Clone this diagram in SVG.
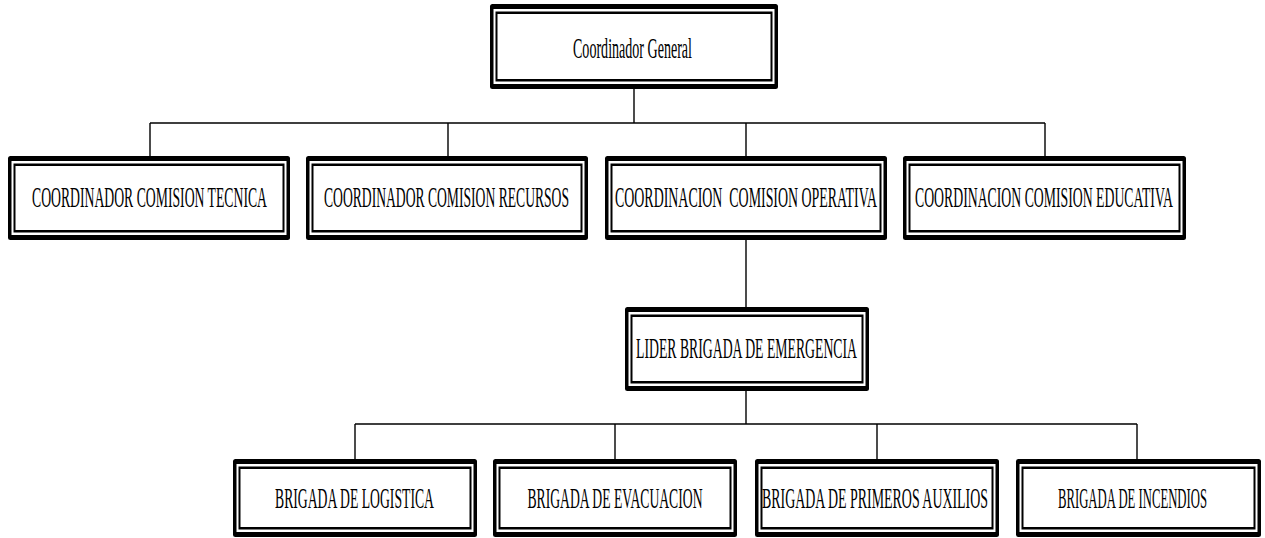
<svg xmlns="http://www.w3.org/2000/svg" width="1265" height="538" viewBox="0 0 1265 538">
<style>
.b{fill:#000}
.w{fill:#fff}
.lbl{font-family:"Liberation Serif","Times New Roman",serif;font-size:30px;fill:#000;text-anchor:middle;white-space:pre}
.conn{stroke:#000;stroke-width:1.4;fill:none}
</style>
<rect width="1265" height="538" fill="#fff"/>
<g id="connectors" class="conn">
<path d="M634 89V123M150 123H1045M150 123V156M448 123V156M746 123V156M1045 123V156"/>
<path d="M746 240V307M746 391V424M355 424H1137M355 424V459M615 424V459M877 424V459M1137 424V459"/>
</g>
<g id="coordinador-general">
<rect class="b" x="490" y="4" width="288" height="85" rx="2.5"/>
<rect class="w" x="493.5" y="9" width="281" height="75"/>
<rect class="b" x="495.5" y="11.5" width="277" height="70"/>
<rect class="w" x="497.5" y="14" width="273" height="65"/>
<text class="lbl" x="632.5" y="58" textLength="119" lengthAdjust="spacingAndGlyphs">Coordinador General</text>
</g>
<g id="comision-tecnica">
<rect class="b" x="8" y="156" width="282" height="84" rx="2.5"/>
<rect class="w" x="11.5" y="161" width="275" height="74"/>
<rect class="b" x="13.5" y="163.5" width="271" height="69"/>
<rect class="w" x="15.5" y="166" width="267" height="64"/>
<text class="lbl" x="149.5" y="207" textLength="235" lengthAdjust="spacingAndGlyphs">COORDINADOR COMISION TECNICA</text>
</g>
<g id="comision-recursos">
<rect class="b" x="306" y="156" width="282" height="84" rx="2.5"/>
<rect class="w" x="309.5" y="161" width="275" height="74"/>
<rect class="b" x="311.5" y="163.5" width="271" height="69"/>
<rect class="w" x="313.5" y="166" width="267" height="64"/>
<text class="lbl" x="446.5" y="207" textLength="245" lengthAdjust="spacingAndGlyphs">COORDINADOR COMISION RECURSOS</text>
</g>
<g id="comision-operativa">
<rect class="b" x="605" y="156" width="282" height="84" rx="2.5"/>
<rect class="w" x="608.5" y="161" width="275" height="74"/>
<rect class="b" x="610.5" y="163.5" width="271" height="69"/>
<rect class="w" x="612.5" y="166" width="267" height="64"/>
<text class="lbl" x="746" y="207" textLength="262" lengthAdjust="spacingAndGlyphs">COORDINACION  COMISION OPERATIVA</text>
</g>
<g id="comision-educativa">
<rect class="b" x="903" y="156" width="283" height="84" rx="2.5"/>
<rect class="w" x="906.5" y="161" width="276" height="74"/>
<rect class="b" x="908.5" y="163.5" width="272" height="69"/>
<rect class="w" x="910.5" y="166" width="268" height="64"/>
<text class="lbl" x="1044" y="207" textLength="258" lengthAdjust="spacingAndGlyphs">COORDINACION COMISION EDUCATIVA</text>
</g>
<g id="lider-brigada">
<rect class="b" x="625" y="307" width="244" height="84" rx="2.5"/>
<rect class="w" x="628.5" y="312" width="237" height="74"/>
<rect class="b" x="630.5" y="314.5" width="233" height="69"/>
<rect class="w" x="632.5" y="317" width="229" height="64"/>
<text class="lbl" x="746.5" y="358" textLength="221" lengthAdjust="spacingAndGlyphs">LIDER BRIGADA DE EMERGENCIA</text>
</g>
<g id="brigada-logistica">
<rect class="b" x="233" y="459" width="244" height="78" rx="2.5"/>
<rect class="w" x="236.5" y="464" width="237" height="68"/>
<rect class="b" x="238.5" y="466.5" width="233" height="63"/>
<rect class="w" x="240.5" y="469" width="229" height="58"/>
<text class="lbl" x="354.5" y="508" textLength="159" lengthAdjust="spacingAndGlyphs">BRIGADA DE LOGISTICA</text>
</g>
<g id="brigada-evacuacion">
<rect class="b" x="493" y="459" width="244" height="78" rx="2.5"/>
<rect class="w" x="496.5" y="464" width="237" height="68"/>
<rect class="b" x="498.5" y="466.5" width="233" height="63"/>
<rect class="w" x="500.5" y="469" width="229" height="58"/>
<text class="lbl" x="615" y="508" textLength="175" lengthAdjust="spacingAndGlyphs">BRIGADA DE EVACUACION</text>
</g>
<g id="brigada-primeros-auxilios">
<rect class="b" x="755" y="459" width="244" height="78" rx="2.5"/>
<rect class="w" x="758.5" y="464" width="237" height="68"/>
<rect class="b" x="760.5" y="466.5" width="233" height="63"/>
<rect class="w" x="762.5" y="469" width="229" height="58"/>
<text class="lbl" x="875" y="508" textLength="226" lengthAdjust="spacingAndGlyphs">BRIGADA DE PRIMEROS AUXILIOS</text>
</g>
<g id="brigada-incendios">
<rect class="b" x="1016" y="459" width="245" height="78" rx="2.5"/>
<rect class="w" x="1019.5" y="464" width="238" height="68"/>
<rect class="b" x="1021.5" y="466.5" width="234" height="63"/>
<rect class="w" x="1023.5" y="469" width="230" height="58"/>
<text class="lbl" x="1132.5" y="508" textLength="149" lengthAdjust="spacingAndGlyphs">BRIGADA DE INCENDIOS</text>
</g>
</svg>
